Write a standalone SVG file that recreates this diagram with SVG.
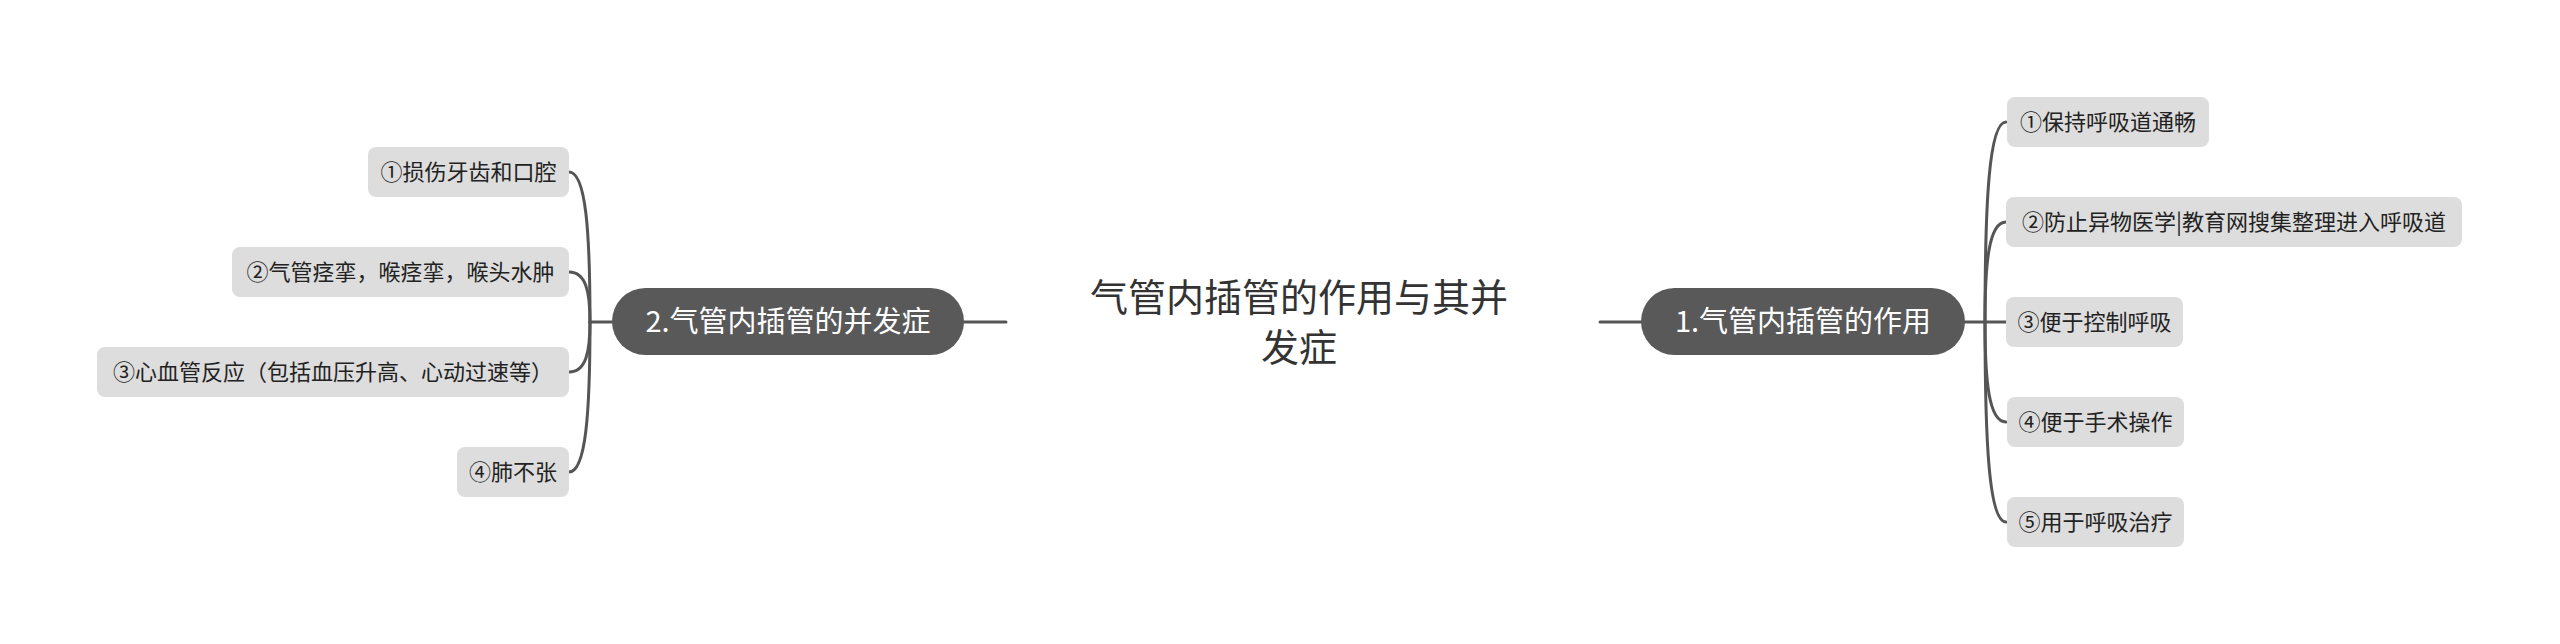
<svg xmlns="http://www.w3.org/2000/svg" width="2560" height="644" viewBox="0 0 2560 644">
<style>
text{font-family:"Microsoft YaHei","Noto Sans CJK SC","Noto Sans",sans-serif;}
.title{font-size:38px;fill:#333333;text-anchor:middle;}
.main rect{fill:#595959;}
.main text{font-size:29px;fill:#ffffff;text-anchor:middle;}
.sub rect{fill:#dddddd;}
.sub text{font-size:22px;fill:#222222;text-anchor:middle;}
.conn path{fill:none;stroke:#555555;stroke-width:3;stroke-linecap:round;}
</style>
<rect x="0" y="0" width="2560" height="644" fill="#ffffff"/>
<g id="connectors" class="conn">
<path d="M964 322 L1006 322"/>
<path d="M1600 322 L1641 322"/>
<path d="M1965 322 L2006 322"/>
<path d="M1985 322 C1985 202 1989 122 2006 122"/>
<path d="M1985 322 C1985 262 1989 222 2006 222"/>
<path d="M1985 322 C1985 382 1989 422 2006 422"/>
<path d="M1985 322 C1985 442 1989 522 2006 522"/>
<path d="M612 322 L590 322"/>
<path d="M590 322 C590 232 586 172 569 172"/>
<path d="M590 322 C590 292 586 272 569 272"/>
<path d="M590 322 C590 352 586 372 569 372"/>
<path d="M590 322 C590 412 586 472 569 472"/>
</g>
<g id="root">
<text class="title" x="1299" y="311">气管内插管的作用与其并</text>
<text class="title" x="1299" y="361">发症</text>
</g>
<g id="main1" class="main">
<rect x="1641" y="288" width="324" height="67" rx="33.5"/>
<text x="1803" y="332">1.气管内插管的作用</text>
</g>
<g id="main2" class="main">
<rect x="612" y="288" width="352" height="67" rx="33.5"/>
<text x="788" y="332">2.气管内插管的并发症</text>
</g>
<g id="r1" class="sub">
<rect x="2007" y="97" width="202" height="50" rx="8"/>
<text x="2108" y="130">①保持呼吸道通畅</text>
</g>
<g id="r2" class="sub">
<rect x="2006" y="197" width="456" height="50" rx="8"/>
<text x="2234" y="230">②防止异物医学|教育网搜集整理进入呼吸道</text>
</g>
<g id="r3" class="sub">
<rect x="2006" y="297" width="177" height="50" rx="8"/>
<text x="2094.5" y="330">③便于控制呼吸</text>
</g>
<g id="r4" class="sub">
<rect x="2007" y="397" width="177" height="50" rx="8"/>
<text x="2095.5" y="430">④便于手术操作</text>
</g>
<g id="r5" class="sub">
<rect x="2007" y="497" width="177" height="50" rx="8"/>
<text x="2095.5" y="530">⑤用于呼吸治疗</text>
</g>
<g id="l1" class="sub">
<rect x="368" y="147" width="201" height="50" rx="8"/>
<text x="468.5" y="180">①损伤牙齿和口腔</text>
</g>
<g id="l2" class="sub">
<rect x="232" y="247" width="337" height="50" rx="8"/>
<text x="400.5" y="280">②气管痉挛，喉痉挛，喉头水肿</text>
</g>
<g id="l3" class="sub">
<rect x="97" y="347" width="472" height="50" rx="8"/>
<text x="333" y="380">③心血管反应（包括血压升高、心动过速等）</text>
</g>
<g id="l4" class="sub">
<rect x="457" y="447" width="112" height="50" rx="8"/>
<text x="513" y="480">④肺不张</text>
</g>
</svg>
